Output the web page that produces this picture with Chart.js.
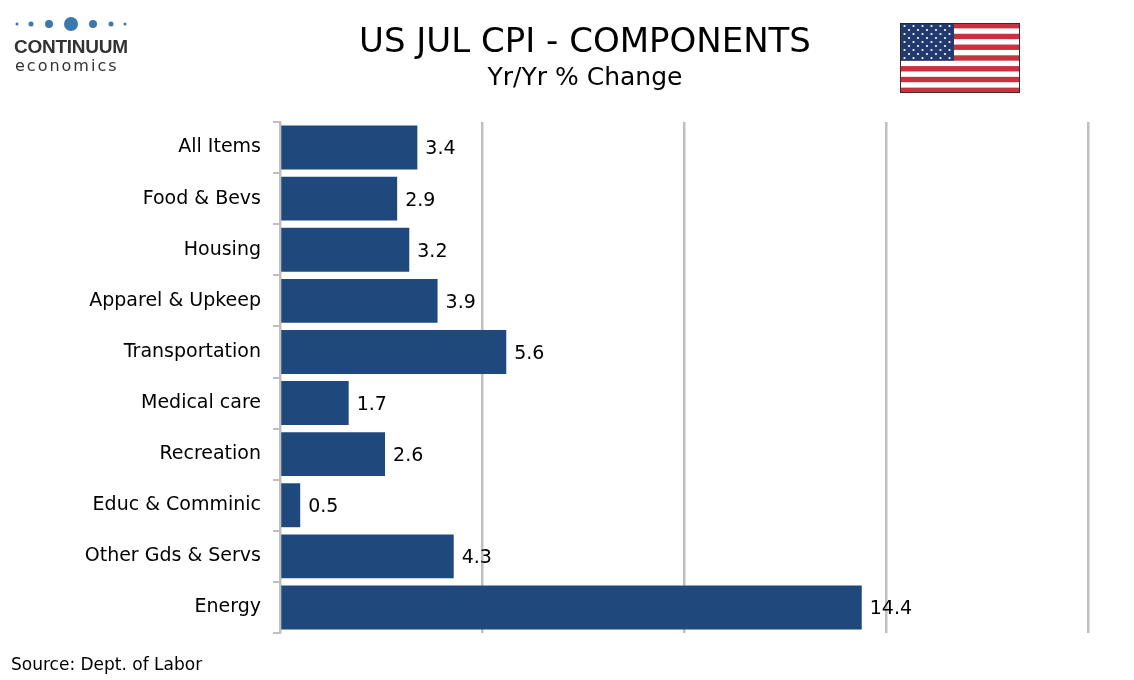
<!DOCTYPE html>
<html><head><meta charset="utf-8">
<script src="https://cdn.jsdelivr.net/npm/chart.js@4"></script>
<style>
body{margin:0;background:#fff;font-family:"DejaVu Sans",Verdana,sans-serif;}
#wrap{position:relative;width:1134px;height:680px;}
canvas#c{position:absolute;left:0;top:0;}
.t{position:absolute;left:0;width:1170px;text-align:center;color:#000;}
#flag{position:absolute;left:900px;top:23px;}
</style></head><body>
<div id="wrap">
<canvas id="c" width="1134" height="680"></canvas>
<div class="t" style="top:20px;font-size:34px;">US JUL CPI - COMPONENTS</div>
<div class="t" style="top:62px;font-size:25px;">Yr/Yr % Change</div>
<svg style="position:absolute;left:14px;top:16px" width="120" height="60">
  <circle cx="3" cy="8" r="1.5" fill="#3a78b0"/><circle cx="17" cy="8" r="2.5" fill="#3a78b0"/>
  <circle cx="35" cy="8" r="4" fill="#3a78b0"/><circle cx="57" cy="8" r="7" fill="#3a78b0"/>
  <circle cx="79" cy="8" r="4" fill="#3a78b0"/><circle cx="97" cy="8" r="2.5" fill="#3a78b0"/>
  <circle cx="111" cy="8" r="1.5" fill="#3a78b0"/>
  <text x="0" y="37" font-size="19" font-weight="bold" fill="#333" font-family="Liberation Sans Narrow,Arial Narrow,sans-serif" textLength="114">CONTINUUM</text>
  <text x="1" y="55" font-size="16" fill="#333" letter-spacing="2" font-family="DejaVu Sans">economics</text>
</svg>
<svg id="flag" width="120" height="70"></svg>
<div style="position:absolute;left:11px;top:654px;font-size:17px;">Source: Dept. of Labor</div>
</div>
<script>
const categories = ['All Items','Food & Bevs','Housing','Apparel & Upkeep','Transportation','Medical care','Recreation','Educ & Comminic','Other Gds & Servs','Energy'];
const values = [3.4, 2.9, 3.2, 3.9, 5.6, 1.7, 2.6, 0.5, 4.3, 14.4];

// flag
(function(){
  const f = document.getElementById('flag');
  let s = '<rect x="0" y="0" width="120" height="70" fill="#fff" stroke="#222" stroke-width="1.5"/>';
  const h = 70/13;
  for (let i = 0; i < 13; i += 2) s += `<rect x="0" y="${i*h}" width="120" height="${h}" fill="#c8313e"/>`;
  s += `<rect x="0" y="0" width="54" height="${7*h}" fill="#233a6e"/>`;
  for (let r = 0; r < 9; r++) for (let c = 0; c < (r%2?5:6); c++)
    s += `<circle cx="${(r%2?9:4.5)+c*9}" cy="${3+r*4}" r="1.1" fill="#fff"/>`;
  s += '<rect x="0" y="0" width="120" height="70" fill="none" stroke="#222" stroke-width="1.5"/>';
  f.innerHTML = s;
})();

const labelPlugin = {
  id: 'labels',
  afterDatasetsDraw(chart) {
    const ctx = chart.ctx;
    ctx.save();
    ctx.font = '19px "DejaVu Sans"';
    ctx.fillStyle = '#000';
    ctx.textBaseline = 'middle';
    chart.getDatasetMeta(0).data.forEach((bar, i) => {
      ctx.fillText(values[i].toFixed(1), bar.x + 8, bar.y + 2);
    });
    ctx.restore();
  }
};

new Chart(document.getElementById('c'), {
  type: 'bar',
  data: { labels: categories, datasets: [{ data: values, backgroundColor: '#1f497d', categoryPercentage: 0.86, barPercentage: 1 }] },
  options: {
    indexAxis: 'y', responsive: false, animation: false,
    layout: { padding: { top: 122, bottom: 47, right: 46, left: 0 } },
    plugins: { legend: { display: false }, tooltip: { enabled: false } },
    scales: {
      x: {
        min: 0, max: 20,
        ticks: { display: false, stepSize: 5 },
        grid: { color: '#bfbfbf', lineWidth: 2.5, drawTicks: false },
        border: { display: false },
        afterFit(a) { a.height = 0; }
      },
      y: {
        ticks: { color: '#000', font: { size: 19, family: 'DejaVu Sans' }, padding: 12 },
        grid: { drawOnChartArea: false, offset: true, tickLength: 7, color: '#bfbfbf', lineWidth: 2 },
        border: { color: '#bfbfbf', width: 2 },
        afterFit(a) { a.width = 280; }
      }
    }
  },
  plugins: [labelPlugin]
});
</script>
</body></html>
